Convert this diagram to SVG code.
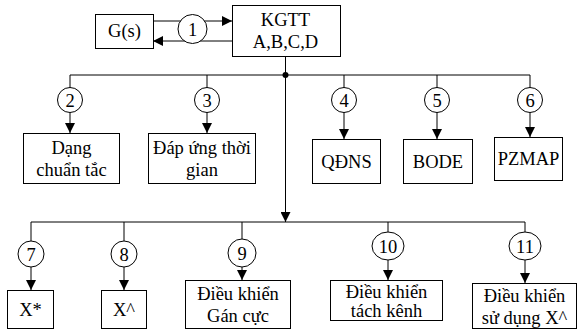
<svg xmlns="http://www.w3.org/2000/svg" width="578" height="331" viewBox="0 0 578 331">
<defs>
<marker id="ah" viewBox="0 0 10 10" refX="10" refY="5" markerWidth="10" markerHeight="10" markerUnits="userSpaceOnUse" orient="auto">
<path d="M0,0 L10,5 L0,10 Z" fill="#000"/>
</marker>
<style>
.b{fill:#fff;stroke:#000;stroke-width:1}
.l{fill:none;stroke:#000;stroke-width:1}
.a{fill:none;stroke:#000;stroke-width:1;marker-end:url(#ah)}
</style>
</defs>
<rect width="578" height="331" fill="#fff"/>
<g id="connectors">
<line class="a" x1="153" y1="21" x2="232" y2="21"/>
<line class="a" x1="232" y1="41" x2="153" y2="41"/>
<line class="l" x1="285.5" y1="56" x2="285.5" y2="75"/>
<circle cx="285.5" cy="75" r="3" fill="#000"/>
<line class="l" x1="70" y1="75" x2="530" y2="75"/>
<line class="l" x1="70" y1="75" x2="70" y2="88"/>
<line class="l" x1="207" y1="75" x2="207" y2="88"/>
<line class="l" x1="344" y1="75" x2="344" y2="88"/>
<line class="l" x1="437" y1="75" x2="437" y2="88"/>
<line class="l" x1="530" y1="75" x2="530" y2="88"/>
<line class="a" x1="70" y1="112" x2="70" y2="133"/>
<line class="a" x1="207" y1="112" x2="207" y2="133"/>
<line class="a" x1="344" y1="112" x2="344" y2="139"/>
<line class="a" x1="437" y1="112" x2="437" y2="139"/>
<line class="a" x1="530" y1="112" x2="530" y2="137"/>
<line class="a" x1="285.5" y1="75" x2="285.5" y2="222"/>
<line class="l" x1="31" y1="222" x2="525" y2="222"/>
<line class="l" x1="31" y1="222" x2="31" y2="241"/>
<line class="l" x1="124" y1="222" x2="124" y2="241"/>
<line class="l" x1="242" y1="222" x2="242" y2="239"/>
<line class="l" x1="388" y1="222" x2="388" y2="232"/>
<line class="l" x1="525" y1="222" x2="525" y2="232"/>
<line class="a" x1="31" y1="267" x2="31" y2="290"/>
<line class="a" x1="124" y1="267" x2="124" y2="290"/>
<line class="a" x1="242" y1="267" x2="242" y2="280"/>
<line class="a" x1="388" y1="260" x2="388" y2="280"/>
<line class="a" x1="525" y1="260" x2="525" y2="283"/>
</g>
<g font-family="Liberation Serif" font-size="18.5" text-anchor="middle" fill="#000">
<g id="gs"><rect class="b" x="95.5" y="14.5" width="58" height="34"/><text x="124.5" y="37">G(s)</text></g>
<g id="kgtt"><rect class="b" x="232.5" y="5.5" width="108" height="51"/><text x="285.5" y="26">KGTT</text><text x="285.5" y="48">A,B,C,D</text></g>
<g id="c1"><circle class="b" cx="192.5" cy="29" r="14.5"/><text x="192.5" y="35.5">1</text></g>
<g id="c2"><circle class="b" cx="70" cy="100" r="12.5"/><text x="70" y="106.5">2</text></g>
<g id="c3"><circle class="b" cx="207" cy="100" r="12.5"/><text x="207" y="106.5">3</text></g>
<g id="c4"><circle class="b" cx="344" cy="100" r="12.5"/><text x="344" y="106.5">4</text></g>
<g id="c5"><circle class="b" cx="437" cy="100" r="12.5"/><text x="437" y="106.5">5</text></g>
<g id="c6"><circle class="b" cx="530" cy="100" r="12.5"/><text x="530" y="106.5">6</text></g>
<g id="n2"><rect class="b" x="23.5" y="133.5" width="96" height="50"/><text x="71.5" y="154">Dạng</text><text x="71.5" y="176">chuẩn tắc</text></g>
<g id="n3"><rect class="b" x="148.5" y="133.5" width="107" height="50"/><text x="202" y="154">Đáp ứng thời</text><text x="202" y="176">gian</text></g>
<g id="n4"><rect class="b" x="312.5" y="139.5" width="68" height="44"/><text x="346.5" y="168">QĐNS</text></g>
<g id="n5"><rect class="b" x="403.5" y="139.5" width="69" height="44"/><text x="438" y="168">BODE</text></g>
<g id="n6"><rect class="b" x="494.5" y="137.5" width="68" height="43"/><text x="528.5" y="165">PZMAP</text></g>
<g id="c7"><circle class="b" cx="31" cy="254" r="13"/><text x="31" y="260.5">7</text></g>
<g id="c8"><circle class="b" cx="124" cy="254" r="13"/><text x="124" y="260.5">8</text></g>
<g id="c9"><circle class="b" cx="242" cy="253" r="14"/><text x="242" y="259.5">9</text></g>
<g id="c10"><ellipse class="b" cx="388" cy="246" rx="16" ry="14"/><text x="388" y="252.5">10</text></g>
<g id="c11"><ellipse class="b" cx="525" cy="246" rx="16" ry="14"/><text x="525" y="252.5">11</text></g>
<g id="n7"><rect class="b" x="7.5" y="290.5" width="46" height="38"/><text x="30.5" y="316">X*</text></g>
<g id="n8"><rect class="b" x="101.5" y="290.5" width="45" height="38"/><text x="124" y="316">X^</text></g>
<g id="n9"><rect class="b" x="185.5" y="280.5" width="105" height="48"/><text x="238" y="300">Điều khiển</text><text x="238" y="322">Gán cực</text></g>
<g id="n10"><rect class="b" x="330.5" y="280.5" width="112" height="40"/><text x="386.5" y="298">Điều khiển</text><text x="386.5" y="317">tách kênh</text></g>
<g id="n11"><rect class="b" x="472.5" y="283.5" width="104" height="45"/><text x="524.5" y="302">Điều khiển</text><text x="524.5" y="324">sử dụng X^</text></g>
</g>
</svg>
